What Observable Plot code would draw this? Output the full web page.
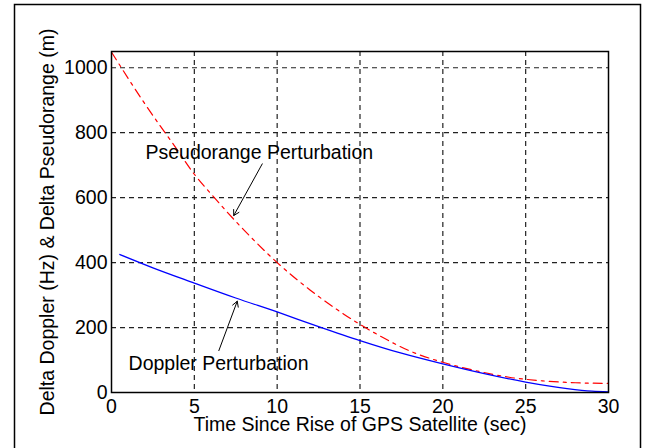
<!DOCTYPE html>
<html><head><meta charset="utf-8">
<script src="https://cdn.jsdelivr.net/npm/d3@7"></script>
<script src="https://cdn.jsdelivr.net/npm/@observablehq/plot@0.6"></script>
<style>body{margin:0;background:#fff}</style>
</head><body><div id="chart"></div>
<script>
// Pseudorange perturbation (red dash-dot)
const pseudoTime = [0, 2, 4, 5, 6, 8, 10, 12, 14, 16, 18, 20, 22, 24, 26, 28, 30];
const pseudoValue = [1048, 890, 745, 672, 612, 500, 400, 315, 242, 180, 128, 93, 67, 47, 36, 30, 28];
// Doppler perturbation (blue solid)
const dopplerTime = [0.5, 2.5, 5, 7.5, 10, 12.5, 15, 17.5, 20, 22.5, 25, 27.5, 29, 30];
const dopplerValue = [425, 384, 337, 291, 248, 203, 160, 121, 88, 58, 32, 12, 4, 2];
// ticks
const xTicks = [0, 5, 10, 15, 20, 25, 30];
const yTicks = [0, 200, 400, 600, 800, 1000];
const gridX = [5, 10, 15, 20, 25];
const gridY = [200, 400, 600, 800, 1000];
// annotations
const noteLabels = ["Pseudorange Perturbation", "Doppler Perturbation"];
const noteX = [2.05, 1.03];
const noteY = [720, 70];
const arrowFromX = [9.1, 6.48];
const arrowFromY = [704, 129];
const arrowToX = [7.38, 7.59];
const arrowToY = [545, 281];
const xLabel = "Time Since Rise of GPS Satellite (sec)";
const yLabel = "Delta Doppler (Hz) & Delta Pseudorange (m)";

const pseudo = pseudoTime.map((t, i) => ({t, v: pseudoValue[i]}));
const doppler = dopplerTime.map((t, i) => ({t, v: dopplerValue[i]}));
const notes = noteLabels.map((label, i) => ({label, x: noteX[i], y: noteY[i]}));
const arrows = arrowFromX.map((x1, i) => ({x1, y1: arrowFromY[i], x2: arrowToX[i], y2: arrowToY[i]}));

const chart = Plot.plot({
  width: 652, height: 448,
  marginLeft: 111, marginRight: 44, marginTop: 51, marginBottom: 56,
  style: {fontFamily: "'Liberation Sans', Arial, sans-serif", fontSize: "19.5px", color: "#000", background: "#fff", overflow: "visible"},
  x: {domain: [0, 30], ticks: xTicks, tickSize: 0, tickPadding: 7, tickFormat: d3.format("d"),
      label: xLabel, labelAnchor: "center", labelOffset: 38, labelArrow: "none"},
  y: {domain: [0, 1050], ticks: yTicks, tickSize: 0, tickPadding: 4, tickFormat: d3.format("d"),
      label: yLabel, labelAnchor: "center", labelOffset: 71, labelArrow: "none"},
  marks: [
    Plot.ruleX(gridX, {stroke: "#222", strokeWidth: 1.2, strokeDasharray: "5,4"}),
    Plot.ruleY(gridY, {stroke: "#222", strokeWidth: 1.2, strokeDasharray: "5,4"}),
    Plot.line(pseudo, {x: "t", y: "v", stroke: "#ff0000", strokeWidth: 1.2, strokeDasharray: "9,5,3,5", curve: "monotone-x"}),
    Plot.line(doppler, {x: "t", y: "v", stroke: "#0000ff", strokeWidth: 1.3, curve: "monotone-x"}),
    Plot.arrow(arrows, {x1: "x1", y1: "y1", x2: "x2", y2: "y2", stroke: "#000", strokeWidth: 1, headLength: 9}),
    Plot.text(notes, {x: "x", y: "y", text: "label", textAnchor: "start", lineAnchor: "bottom", fill: "#000", fontSize: 19.5}),
    Plot.frame({stroke: "#000", strokeWidth: 1.5})
  ]
});
document.getElementById("chart").appendChild(chart);
// outer figure border
d3.select(chart).append("rect")
  .attr("x", 14.5).attr("y", 4.5).attr("width", 626).attr("height", 450)
  .attr("fill", "none").attr("stroke", "#000").attr("stroke-width", 1.5);
</script>
</body></html>
